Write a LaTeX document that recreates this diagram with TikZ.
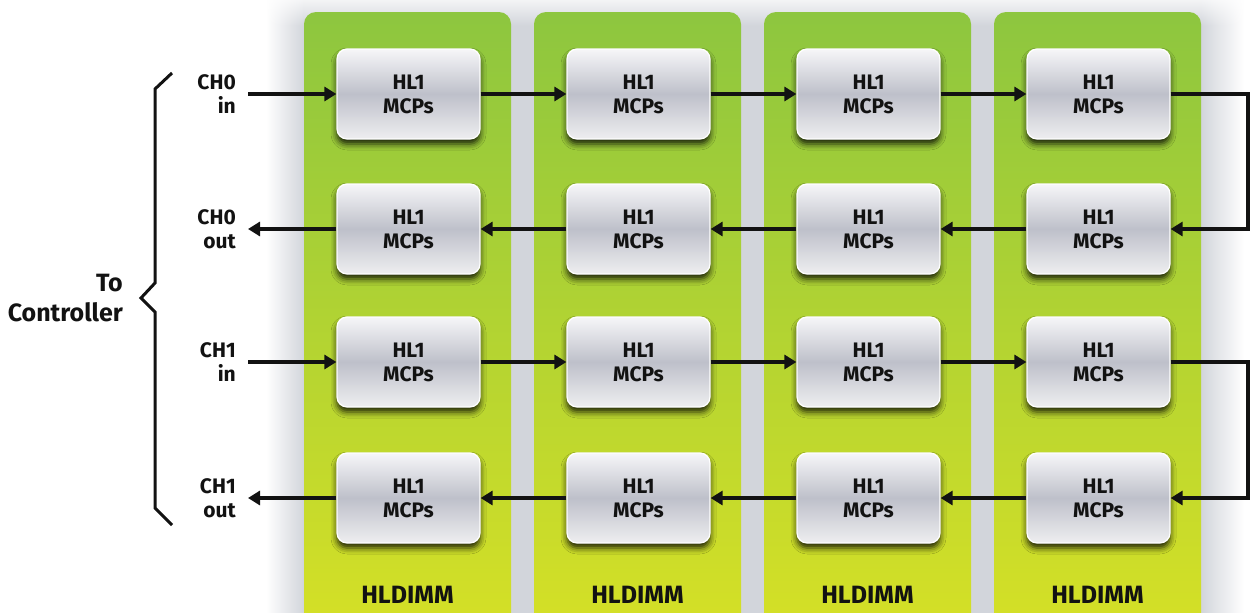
\documentclass[tikz,border=0pt]{standalone}
\usepackage{fontspec}
\setmainfont{Fira Sans}
\usetikzlibrary{arrows.meta,shadows.blur,calc,fadings}
\definecolor{pantop}{RGB}{141,198,63}
\definecolor{panbot}{RGB}{213,224,38}
\definecolor{boxmid}{RGB}{190,192,202}
\definecolor{boxtop}{RGB}{246,246,248}
\definecolor{boxbot}{RGB}{238,238,240}
\definecolor{ink}{RGB}{18,18,18}
\definecolor{gapgray}{RGB}{210,213,219}
\tikzset{
  panel/.style={rounded corners=12pt, top color=pantop, bottom color=panbot},
  mcp/.style={rounded corners=10pt, minimum width=143pt, minimum height=90pt,
    top color=boxtop, bottom color=boxbot, middle color=boxmid, draw=white, line width=1.2pt,
    align=center, font=\bfseries\fontsize{21}{24}\selectfont, text=ink,
    blur shadow={shadow xshift=0pt, shadow yshift=-5pt, shadow blur radius=6pt, shadow opacity=85}},
  chlab/.style={anchor=east, align=right, font=\bfseries\fontsize{21}{24}\selectfont, text=ink, inner sep=0pt},
  biglab/.style={font=\bfseries\fontsize{25}{30}\selectfont, text=ink, inner sep=0pt},
  conn/.style={draw=ink, line width=4pt, -{Triangle[length=12pt,width=14pt]}},
  bracel/.style={draw=ink, line width=3pt, line join=miter}
}
\begin{document}
\begin{tikzpicture}[x=1pt,y=-1pt]
\useasboundingbox (0,0) rectangle (1256,613);
\fill[white] (0,0) rectangle (1256,613);
% background shading behind panels
\fill[left color=white, right color=gapgray] (266,0) rectangle (304,613);
\fill[gapgray] (303,0) rectangle (1202,613);
\fill[left color=gapgray, right color=white] (1201,0) rectangle (1244,613);
\fill[white, path fading=south, fill opacity=0.75] (0,0) rectangle (1256,26);
% panels
\foreach \i in {0,1,2,3}{
  \path[panel] ({304+230*\i},12) rectangle ({511+230*\i},628);
  \node[biglab] (dimm\i) at ({407.5+230*\i},595) {HLDIMM};
}
% boxes
\foreach \r/\y in {1/94,2/229,3/362,4/498}{
  \foreach \c in {1,2,3,4}{
    \node[mcp] (b\r\c) at ({408.5+230*(\c-1)},\y) {HL1\\MCPs};
  }
}
% labels
\node[chlab] (l1) at (236,94) {CH0\\in};
\node[chlab] (l2) at (236,229) {CH0\\out};
\node[chlab] (l3) at (236,362) {CH1\\in};
\node[chlab] (l4) at (236,498) {CH1\\out};
\node[biglab, anchor=east, align=right] (ctrl) at (123,298) {To\\Controller};
% coordinates
\coordinate (i1) at (248,94);
\coordinate (o2) at (248,229);
\coordinate (i3) at (248,362);
\coordinate (o4) at (248,498);
\coordinate (k1) at (1248,94);
\coordinate (k2) at (1248,229);
\coordinate (k3) at (1248,362);
\coordinate (k4) at (1248,498);
% connectors
\draw[conn] (i1) -- (b11.west);
\draw[conn] (i3) -- (b31.west);
\draw[conn] (b21.west) -- (o2);
\draw[conn] (b41.west) -- (o4);
\foreach \c/\n in {1/2,2/3,3/4}{
  \draw[conn] (b1\c.east) -- (b1\n.west);
  \draw[conn] (b3\c.east) -- (b3\n.west);
  \draw[conn] (b2\n.west) -- (b2\c.east);
  \draw[conn] (b4\n.west) -- (b4\c.east);
}
\draw[conn, line join=miter] (b14.east) -- (k1) -- (k2) -- (b24.east);
\draw[conn, line join=miter] (b34.east) -- (k3) -- (k4) -- (b44.east);
% brace
\draw[bracel] (172,73) -- (155,89) -- (155,283) -- (141,298) -- (155,312) -- (155,508) -- (172,525);
\end{tikzpicture}
\end{document}
